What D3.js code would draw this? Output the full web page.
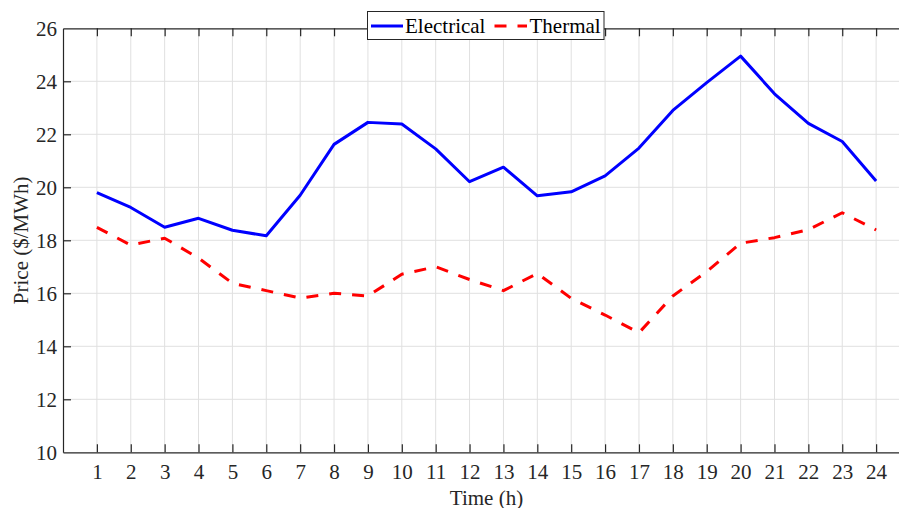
<!DOCTYPE html>
<html>
<head>
<meta charset="utf-8">
<script src="https://cdn.jsdelivr.net/npm/d3@7"></script>
<style>
    body { margin: 0; background: #fff; }
    svg { display: block; font-family: "Liberation Serif", "Times New Roman", serif; }
</style>
</head>
<body>
<div id="chart"></div>
<script>
// hours on the x axis
const hours = [1, 2, 3, 4, 5, 6, 7, 8, 9, 10, 11, 12, 13, 14, 15, 16, 17, 18, 19, 20, 21, 22, 23, 24];

// prices ($/MWh)
const electrical = [19.8, 19.24, 18.49, 18.83, 18.38, 18.17, 19.7, 21.62, 22.45, 22.39, 21.45, 20.21, 20.76, 19.68, 19.83, 20.43, 21.48, 22.9, 23.95, 24.95, 23.53, 22.41, 21.73, 20.24];
const thermal = [18.49, 17.82, 18.08, 17.33, 16.38, 16.1, 15.82, 16.0, 15.9, 16.72, 17.0, 16.52, 16.1, 16.75, 15.81, 15.18, 14.51, 15.9, 16.82, 17.89, 18.1, 18.4, 19.04, 18.39];

const yTicks = [10, 12, 14, 16, 18, 20, 22, 24, 26];

const series = [
    { name: "Electrical", values: electrical, color: "#0000ff", dash: null },
    { name: "Thermal", values: thermal, color: "#ff0000", dash: "12,11" }
];

function drawChart() {
    const width = 899;
    const height = 508;
    // the plot box runs past the right edge of the window (x domain 0..25)
    const margin = { top: 28.3, left: 63, right: -11, bottom: 55.7 };
    const axisColor = "#262626";
    const serif = "'Liberation Serif', 'Times New Roman', serif";

    const svg = d3.select("#chart")
        .append("svg")
        .attr("width", width)
        .attr("height", height);

    const x = d3.scaleLinear()
        .domain([0, 25])
        .range([margin.left, width - margin.right]);

    const y = d3.scaleLinear()
        .domain([10, 26])
        .range([height - margin.bottom, margin.top]);

    // grid
    const grid = svg.append("g").attr("class", "grid");
    grid.selectAll("line.v")
        .data(hours)
        .join("line")
        .attr("class", "v")
        .attr("x1", d => x(d)).attr("x2", d => x(d))
        .attr("y1", y(10)).attr("y2", y(26))
        .attr("stroke", "#e0e0e0")
        .attr("stroke-width", 1);
    grid.selectAll("line.h")
        .data(yTicks.slice(1, -1))
        .join("line")
        .attr("class", "h")
        .attr("x1", x(0)).attr("x2", x(25))
        .attr("y1", d => y(d)).attr("y2", d => y(d))
        .attr("stroke", "#e0e0e0")
        .attr("stroke-width", 1);

    // axes (ticks point inward)
    const bottom = svg.append("g")
        .attr("transform", `translate(0,${y(10)})`)
        .call(d3.axisBottom(x).tickValues(hours).tickSizeInner(-8).tickSizeOuter(0).tickPadding(12));

    const top = svg.append("g")
        .attr("transform", `translate(0,${y(26)})`)
        .call(d3.axisTop(x).tickValues(hours).tickSizeInner(-8).tickSizeOuter(0).tickFormat(""));

    const left = svg.append("g")
        .attr("transform", `translate(${x(0)},0)`)
        .call(d3.axisLeft(y).tickValues(yTicks).tickSizeInner(-8).tickSizeOuter(0).tickPadding(6));

    [bottom, top, left].forEach(g => {
        g.attr("font-family", serif).attr("font-size", 21);
        g.select(".domain").attr("stroke", axisColor).attr("stroke-width", 1.2);
        g.selectAll(".tick line").attr("stroke", axisColor).attr("stroke-width", 1.2);
        g.selectAll(".tick text").attr("fill", axisColor);
    });
    left.selectAll(".tick")
        .filter(d => d === 10 || d === 26)
        .select("line").remove();

    // lines
    const line = d3.line()
        .x((d, i) => x(hours[i]))
        .y(d => y(d));

    svg.append("g")
        .selectAll("path")
        .data(series)
        .join("path")
        .attr("d", d => line(d.values))
        .attr("fill", "none")
        .attr("stroke", d => d.color)
        .attr("stroke-width", 3)
        .attr("stroke-linejoin", "round")
        .attr("stroke-dasharray", d => d.dash);

    // axis labels
    svg.append("text")
        .attr("x", (x(0) + x(25)) / 2)
        .attr("y", 504.5)
        .attr("text-anchor", "middle")
        .attr("fill", axisColor)
        .style("font-size", "21px")
        .text("Time (h)");

    svg.append("text")
        .attr("transform", `translate(27.5,${(y(10) + y(26)) / 2}) rotate(-90)`)
        .attr("text-anchor", "middle")
        .attr("fill", axisColor)
        .style("font-size", "21px")
        .text("Price ($/MWh)");

    // legend
    const legend = svg.append("g");
    legend.append("rect")
        .attr("x", 367.5).attr("y", 11.5)
        .attr("width", 236.5).attr("height", 28)
        .attr("fill", "#fff")
        .attr("stroke", axisColor)
        .attr("stroke-width", 1);

    const legendItems = [
        { s: series[0], x0: 371, x1: 403, tx: 405 },
        { s: series[1], x0: 494.5, x1: 527, tx: 529.5 }
    ];
    legendItems.forEach(item => {
        legend.append("line")
            .attr("x1", item.x0).attr("x2", item.x1)
            .attr("y1", 26).attr("y2", 26)
            .attr("stroke", item.s.color)
            .attr("stroke-width", 3)
            .attr("stroke-dasharray", item.s.dash);
        legend.append("text")
            .attr("x", item.tx)
            .attr("y", 33.3)
            .attr("fill", "#000")
            .style("font-size", "21px")
            .text(item.s.name);
    });
}

document.addEventListener("DOMContentLoaded", drawChart);
</script>
</body>
</html>
